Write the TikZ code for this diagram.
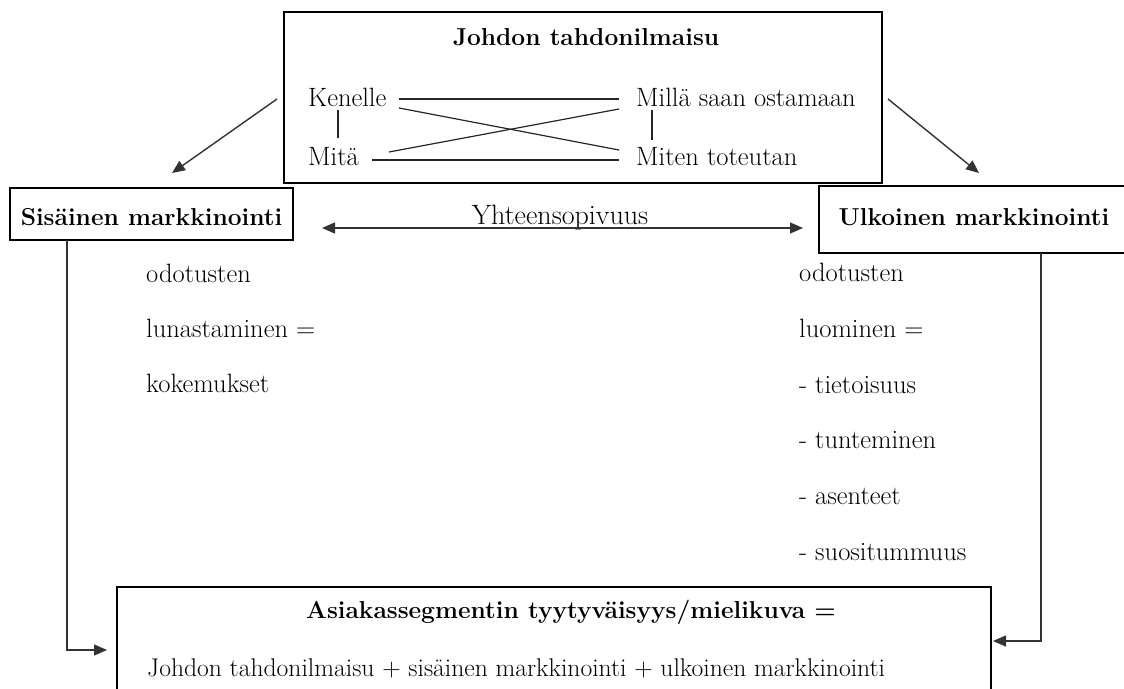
\documentclass[tikz,border=0pt]{standalone}
\usetikzlibrary{arrows.meta}
\begin{document}
\begin{tikzpicture}[x=1pt,y=-1pt,
  box/.style={draw=black,line width=1.3pt},
  txt/.style={inner sep=0pt,anchor=base west,font=\fontsize{26.5}{30}\selectfont},
  ttl/.style={inner sep=0pt,anchor=base,font=\fontsize{24.5}{28}\selectfont\bfseries},
  link/.style={line width=1.2pt,draw=black!85},
  conn/.style={line width=1.4pt,draw=black!80,-{Triangle[length=13pt,width=11pt]}},
  both/.style={line width=1.4pt,draw=black!80,{Triangle[length=13pt,width=11pt]}-{Triangle[length=13pt,width=11pt]}}]
\useasboundingbox[fill=white] (0,0) rectangle (1124,688);

% boxes
\draw[box] (284,12) rectangle (882,183);
\draw[box] (10,188) rectangle (293,240);
\draw[box] (819,186) rectangle (1135,253);
\draw[box] (117,587) rectangle (991,700);

% management box
\node[ttl] (johto) at (586,45) {Johdon tahdonilmaisu};
\node[txt] (ken) at (308,106) {Kenelle};
\node[txt] (mil) at (636,106) {Millä saan ostamaan};
\node[txt] (mit) at (308,165) {Mitä};
\node[txt] (mite) at (636,165) {Miten toteutan};

\coordinate (k1) at (399,99);  \coordinate (k2) at (619,99);
\coordinate (m1) at (372,160); \coordinate (m2) at (619,160);
\coordinate (x1) at (399,108); \coordinate (x2) at (619,150);
\coordinate (y1) at (389,152); \coordinate (y2) at (619,109);
\coordinate (v1) at (338,110); \coordinate (v2) at (338,138);
\coordinate (w1) at (652,110); \coordinate (w2) at (652,140);
\draw[link] (k1) -- (k2);
\draw[link] (m1) -- (m2);
\draw[link] (x1) -- (x2);
\draw[link] (y1) -- (y2);
\draw[link] (v1) -- (v2);
\draw[link] (w1) -- (w2);

% marketing boxes
\node[ttl] (sis) at (151.5,225) {Sisäinen markkinointi};
\node[ttl] (ulk) at (974,225) {Ulkoinen markkinointi};
\node[txt,anchor=base,font=\fontsize{28}{30}\selectfont] (yht) at (560,224) {Yhteensopivuus};

% arrows from the management box
\coordinate (a1) at (277,99);  \coordinate (a2) at (172,173);
\coordinate (b1) at (888,99);  \coordinate (b2) at (979,173);
\draw[conn] (a1) -- (a2);
\draw[conn] (b1) -- (b2);
\coordinate (c1) at (322,228); \coordinate (c2) at (803,228);
\draw[both] (c1) -- (c2);

% column texts
\node[txt] (l1) at (146,282) {odotusten};
\node[txt] (l2) at (146,337) {lunastaminen =};
\node[txt] (l3) at (146,392) {kokemukset};

\node[txt] (r1) at (799,281) {odotusten};
\node[txt] (r2) at (799,337) {luominen =};
\node[txt] (r3) at (799,393) {- tietoisuus};
\node[txt] (r4) at (799,448) {- tunteminen};
\node[txt] (r5) at (799,504) {- asenteet};
\node[txt] (r6) at (799,560) {- suositummuus};

% result box
\node[ttl] (asi) at (571,618) {Asiakassegmentin tyytyväisyys/mielikuva =};
\node[txt,font=\fontsize{25.6}{30}\selectfont] (sum) at (147,676) {Johdon tahdonilmaisu + sisäinen markkinointi + ulkoinen markkinointi};

% feeds into the result box
\coordinate (s1) at (67,240);  \coordinate (s2) at (67,650); \coordinate (s3) at (107,650);
\coordinate (u1) at (1041,253); \coordinate (u2) at (1041,641); \coordinate (u3) at (993,641);
\draw[conn] (s1) -- (s2) -- (s3);
\draw[conn] (u1) -- (u2) -- (u3);
\end{tikzpicture}
\end{document}
